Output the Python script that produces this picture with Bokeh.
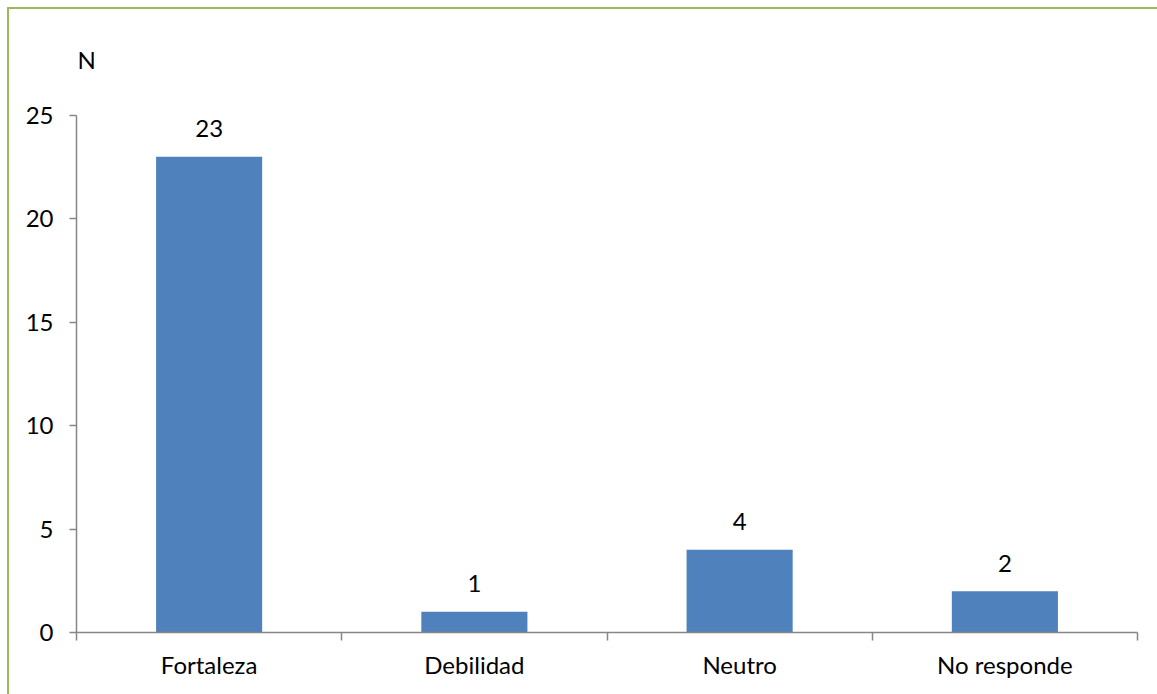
from bokeh.plotting import figure
from bokeh.models import ColumnDataSource, FixedTicker, Range1d
from bokeh.core.properties import value
from bokeh.embed import file_html
from bokeh.resources import INLINE

# Survey answers: count of respondents per category
categories = ["Fortaleza", "Debilidad", "Neutro", "No responde"]
counts = [23, 1, 4, 2]
y_ticks = [0, 5, 10, 15, 20, 25]
y_title = "N"

FONT = "Lato"
FONT_SIZE = "24px"
BAR_COLOR = "#4F81BD"
AXIS_COLOR = "#868686"
FRAME_COLOR = "#9BBB59"

# the value axis covers 0..25 over 517 px; the frame is taller so that the
# axis title fits inside it above the axis line
AXIS_PX = 517
FRAME_PX = 600
y_top = y_ticks[-1] * FRAME_PX / AXIS_PX

n = len(categories)
centers = [i + 0.5 for i in range(n)]
source = ColumnDataSource(dict(
    x=centers,
    count=counts,
    label=[str(c) for c in counts],
))

p = figure(
    frame_width=1061, frame_height=FRAME_PX,
    min_border_left=67, min_border_right=20,
    min_border_top=23, min_border_bottom=62,
    x_range=Range1d(0, n), y_range=Range1d(0, y_top),
    output_backend="svg", toolbar_location=None,
)
p.styles = {
    "margin-left": "7px", "margin-top": "7px",
    "border-left": f"2px solid {FRAME_COLOR}",
    "border-top": f"2px solid {FRAME_COLOR}",
}

p.outline_line_color = None
p.background_fill_color = "white"
p.border_fill_color = "white"
p.xgrid.visible = False
p.ygrid.visible = False

# bars
p.vbar(x="x", top="count", width=0.4, source=source,
       fill_color=BAR_COLOR, line_color=None)

# value labels above bars
p.text(x="x", y="count", text="label", source=source,
       text_align="center", text_baseline="middle", y_offset=-28,
       text_font=value(FONT), text_font_size=FONT_SIZE, text_color="black")

# axis title "N" above the top of the value axis
p.text(x=[0], y=[y_ticks[-1]], text=[y_title],
       text_align="left", text_baseline="middle",
       x_offset=1, y_offset=-56,
       text_font=value(FONT), text_font_size=FONT_SIZE, text_color="black")

# y axis
ya = p.yaxis[0]
ya.bounds = (y_ticks[0], y_ticks[-1])
ya.ticker = FixedTicker(ticks=y_ticks)
ya.axis_line_color = AXIS_COLOR
ya.axis_line_width = 1.5
ya.major_tick_line_color = AXIS_COLOR
ya.major_tick_line_width = 1.5
ya.major_tick_out = 7
ya.major_tick_in = 0
ya.minor_tick_line_color = None
ya.major_label_standoff = 16
ya.major_label_text_font = FONT
ya.major_label_text_font_size = FONT_SIZE
ya.major_label_text_color = "black"

# x axis: labels at category centres, ticks at category boundaries
xa = p.xaxis[0]
xa.ticker = FixedTicker(ticks=centers, minor_ticks=list(range(n + 1)))
xa.major_label_overrides = {c: name for c, name in zip(centers, categories)}
xa.axis_line_color = AXIS_COLOR
xa.axis_line_width = 1.5
xa.major_tick_line_color = None
xa.major_tick_out = 0
xa.major_tick_in = 0
xa.minor_tick_line_color = AXIS_COLOR
xa.minor_tick_line_width = 1.5
xa.minor_tick_out = 8
xa.minor_tick_in = 0
xa.major_label_standoff = 9
xa.major_label_text_font = FONT
xa.major_label_text_font_size = FONT_SIZE
xa.major_label_text_color = "black"

open("out.html", "w").write(file_html(p, INLINE))
